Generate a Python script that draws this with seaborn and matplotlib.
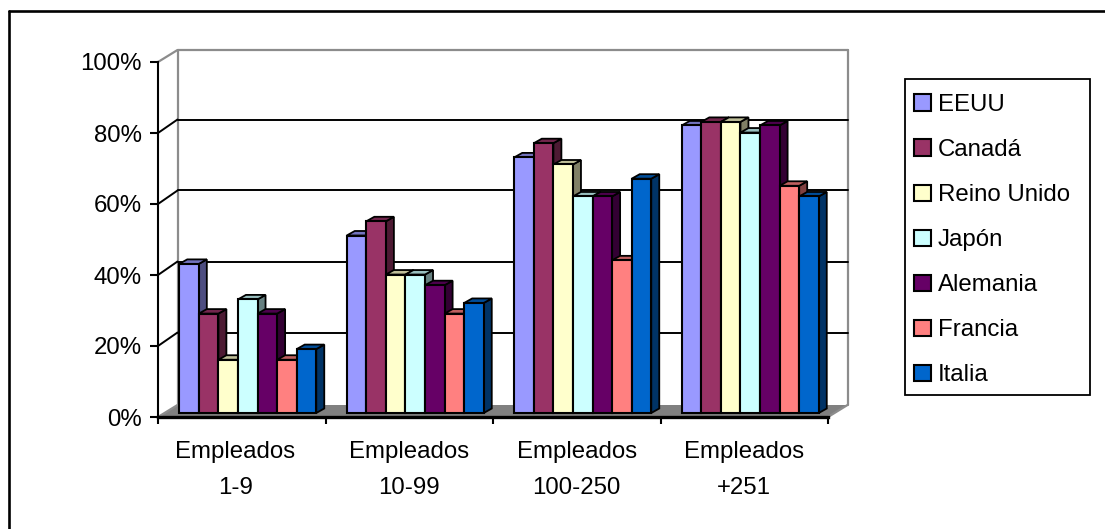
import numpy as np
import pandas as pd
import matplotlib
matplotlib.use("Agg")
import matplotlib.pyplot as plt
import seaborn as sns
from matplotlib.lines import Line2D
from matplotlib.patches import Polygon, Rectangle
from matplotlib.transforms import IdentityTransform, ScaledTranslation
from matplotlib.ticker import FixedLocator, FuncFormatter

grupos = ["Empleados\n1-9", "Empleados\n10-99", "Empleados\n100-250", "Empleados\n+251"]
paises = ["EEUU", "Canadá", "Reino Unido", "Japón", "Alemania", "Francia", "Italia"]
colores = ["#9999FF", "#993366", "#FFFFCC", "#CCFFFF", "#660066", "#FF8080", "#0066CC"]

eeuu = [42, 50, 72, 81]
canada = [28, 54, 76, 82]
reino_unido = [15, 39, 70, 82]
japon = [32, 39, 61, 79]
alemania = [28, 36, 61, 81]
francia = [15, 28, 43, 64]
italia = [18, 31, 66, 61]

series = [eeuu, canada, reino_unido, japon, alemania, francia, italia]
df = pd.DataFrame({
    "grupo": np.tile(grupos, len(paises)),
    "pais": np.repeat(paises, len(grupos)),
    "valor": np.concatenate(series),
})

sns.set_style("white")
plt.rcParams["font.family"] = ["Liberation Sans", "DejaVu Sans"]
FS = 17.3
W, H = 1105, 529

fig = plt.figure(figsize=(W / 100, H / 100), dpi=100)
ax = fig.add_axes([158 / W, (H - 417) / H, 670 / W, 355 / H])

sns.barplot(data=df, x="grupo", y="valor", hue="pais", order=grupos, hue_order=paises,
            palette=colores, saturation=1, width=0.818, gap=0,
            edgecolor="black", linewidth=1.5, ax=ax)
ax.set_xlim(-0.5, 3.5)
ax.set_ylim(0, 100)
ax.set_xlabel("")
ax.set_ylabel("")


def desplazado(dx, dy):
    # offset in pixels from the front plane of the chart
    return ax.transData + ScaledTranslation(dx / 100, dy / 100, fig.dpi_scale_trans)


def px(x, y, dx=0, dy=0):
    p = ax.transData.transform((x, y))
    return (p[0] + dx, p[1] + dy)


# depth of walls and bars
PX, PY = 19.5, 12
GY = 13.5  # grid sits a little higher on the back wall
BX, BY = 6, 4
DX, DY = 8, 4.5
fondo = desplazado(PX, PY)
fondo_grid = desplazado(PX, GY)
id_t = IdentityTransform()

# floor
ax.add_patch(Polygon([px(-0.5, 0), px(-0.5, 0, PX, PY), px(3.5, 0, PX, PY), px(3.5, 0)],
                     closed=True, facecolor="#808080", edgecolor="none",
                     transform=id_t, clip_on=False, zorder=1))

# grid on the back wall and the left wall
for v in [20, 40, 60, 80]:
    ax.plot([-0.5, 3.5], [v, v], color="black", lw=1.4, transform=fondo_grid, clip_on=False, zorder=1.2)
    a, b = px(-0.5, v), px(-0.5, v, PX, GY)
    ax.plot([a[0], b[0]], [a[1], b[1]], color="black", lw=1.4, transform=id_t, clip_on=False, zorder=1.2)

gris = "#8c8c8c"
ax.plot([-0.5, 3.5], [100, 100], color=gris, lw=1.6, transform=fondo, clip_on=False, zorder=1.1)
ax.plot([-0.5, -0.5], [0, 100], color=gris, lw=1.6, transform=fondo, clip_on=False, zorder=1.1)
ax.plot([3.5, 3.5], [0, 100], color=gris, lw=1.6, transform=fondo, clip_on=False, zorder=1.1)
for x, v in [(-0.5, 100), (-0.5, 0), (3.5, 0)]:
    a, b = px(x, v), px(x, v, PX, PY)
    ax.plot([a[0], b[0]], [a[1], b[1]], color=gris, lw=1.6, transform=id_t, clip_on=False, zorder=1.3)

# turn the flat bars into boxes, painted left to right
barras = []
for cont, col in zip(ax.containers, colores):
    for b in cont:
        barras.append((b, col))
barras.sort(key=lambda t: t[0].get_x())


def oscurecer(col, f):
    return tuple(c * f for c in matplotlib.colors.to_rgb(col))


for i, (b, col) in enumerate(barras):
    z = 3 + i * 0.01
    x0, x1 = b.get_x(), b.get_x() + b.get_width()
    v = b.get_height()
    arriba = [px(x0, v, BX, BY), px(x1, v, BX, BY), px(x1, v, BX + DX, BY + DY), px(x0, v, BX + DX, BY + DY)]
    lado = [px(x1, 0, BX, BY), px(x1, 0, BX + DX, BY + DY), px(x1, v, BX + DX, BY + DY), px(x1, v, BX, BY)]
    for puntos, f in [(lado, 0.5), (arriba, 0.75)]:
        ax.add_patch(Polygon(puntos, closed=True, facecolor=oscurecer(col, f), edgecolor="black",
                             lw=1.3, transform=id_t, clip_on=False, zorder=z))
    b.set_transform(desplazado(BX, BY))
    b.set_clip_on(False)
    b.set_zorder(z + 0.001)

# axes
sns.despine(ax=ax)
ax.spines["left"].set_linewidth(1.5)
ax.spines["left"].set_color("black")
ax.spines["bottom"].set_linewidth(2.4)
ax.spines["bottom"].set_color("black")
ax.spines["left"].set_zorder(5)
ax.spines["bottom"].set_zorder(5)

ax.yaxis.set_major_locator(FixedLocator([0, 20, 40, 60, 80, 100]))
ax.yaxis.set_major_formatter(FuncFormatter(lambda v, p: f"{v:.0f}%"))
ax.tick_params(axis="y", which="major", left=True, length=5.5, width=1.5, color="black",
               labelsize=FS, labelcolor="black", pad=6)
ax.set_xticks(np.arange(4))
ax.set_xticklabels(grupos, linespacing=1.85)
ax.set_xticks(np.arange(-0.5, 4), minor=True)
ax.tick_params(axis="x", which="major", length=0, labelsize=FS, labelcolor="black", pad=17)
ax.tick_params(axis="x", which="minor", bottom=True, length=5, width=1.5, color="black")

# first label sits left of its group in the original
etq = ax.get_xticklabels()
etq[0].set_transform(etq[0].get_transform() + ScaledTranslation(-6.5 / 100, 0, fig.dpi_scale_trans))

# legend from seaborn's handles, the box is drawn apart so the padding can differ per side
h, l = ax.get_legend_handles_labels()
ax.legend(h, l, loc="upper left", bbox_to_anchor=(914.5 / W, (H - 94) / H),
          bbox_transform=fig.transFigure, borderaxespad=0, fontsize=FS, frameon=False,
          handlelength=0.67, handleheight=0.67, handletextpad=0.3, labelspacing=0.96,
          borderpad=0, labelcolor="black")
fig.add_artist(Rectangle((905 / W, (H - 395) / H), 185 / W, 316 / H, transform=fig.transFigure,
                         facecolor="none", edgecolor="black", lw=1.3))

# outer frame: only top and left are inside the image
fig.add_artist(Line2D([9.3 / W, 9.3 / W], [0, (H - 11.3) / H], color="black", lw=1.9))
fig.add_artist(Line2D([9.3 / W, 1], [(H - 11.3) / H, (H - 11.3) / H], color="black", lw=1.9))

fig.savefig("out.png", dpi=100)
